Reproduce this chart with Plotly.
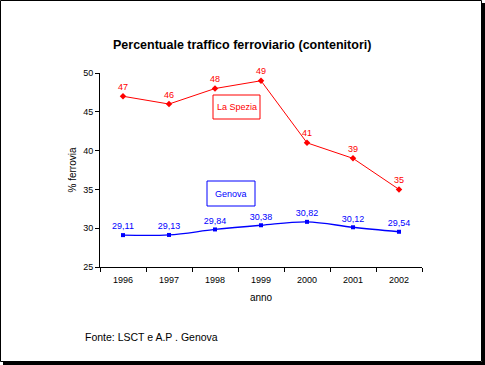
import plotly.graph_objects as go

years = ["1996", "1997", "1998", "1999", "2000", "2001", "2002"]
la_spezia = [47, 46, 48, 49, 41, 39, 35]
genova = [29.11, 29.13, 29.84, 30.38, 30.82, 30.12, 29.54]
la_spezia_labels = [str(v) for v in la_spezia]
genova_labels = [f"{v:.2f}".replace(".", ",") for v in genova]

W, H = 485, 365
L, R, T, B = 100, 63, 73, 98
pw, ph = W - L - R, H - T - B

def px(x):
    return (x - L) / pw

def py(y):
    return 1 - (y - T) / ph

FONT = "Liberation Sans, Arial, sans-serif"

fig = go.Figure()
fig.add_trace(go.Scatter(
    x=years, y=la_spezia, mode="lines+markers+text",
    line=dict(color="#FF0000", width=1),
    marker=dict(symbol="diamond", size=5, color="#FF0000"),
    text=la_spezia_labels, textposition="top center",
    textfont=dict(family=FONT, size=9, color="#FF0000"),
    showlegend=False, cliponaxis=False,
))
fig.add_trace(go.Scatter(
    x=years, y=genova, mode="lines+markers+text",
    line=dict(color="#0000FF", width=1.3, shape="spline"),
    marker=dict(symbol="square", size=4, color="#0000FF"),
    text=genova_labels, textposition="top center",
    textfont=dict(family=FONT, size=9, color="#0000FF"),
    showlegend=False, cliponaxis=False,
))

shapes = [
    # outer frame
    dict(type="rect", xref="paper", yref="paper",
         x0=px(0.5), x1=px(481.5), y0=py(0.5), y1=py(361.5),
         line=dict(color="black", width=1), fillcolor="rgba(0,0,0,0)", layer="below"),
    # shadow right
    dict(type="rect", xref="paper", yref="paper",
         x0=px(482), x1=px(485), y0=py(3), y1=py(365),
         line=dict(width=0), fillcolor="black"),
    # shadow bottom
    dict(type="rect", xref="paper", yref="paper",
         x0=px(3), x1=px(485), y0=py(362), y1=py(365),
         line=dict(width=0), fillcolor="black"),
    # La Spezia box
    dict(type="rect", xref="paper", yref="paper",
         x0=px(213), x1=px(260), y0=py(95), y1=py(119),
         line=dict(color="#FF0000", width=1), fillcolor="white"),
    # Genova box
    dict(type="rect", xref="paper", yref="paper",
         x0=px(207), x1=px(255), y0=py(181), y1=py(206),
         line=dict(color="#0000FF", width=1), fillcolor="white"),
]

annotations = [
    dict(text="La Spezia", xref="paper", yref="paper", x=px(236.5), y=py(107),
         xanchor="center", yanchor="middle",
         showarrow=False, font=dict(family=FONT, size=9, color="#FF0000")),
    dict(text="Genova", xref="paper", yref="paper", x=px(231), y=py(193.5),
         xanchor="center", yanchor="middle",
         showarrow=False, font=dict(family=FONT, size=9, color="#0000FF")),
    dict(text="<b>Percentuale traffico ferroviario (contenitori)</b>", xref="paper", yref="paper",
         x=px(242), y=py(45), xanchor="center", yanchor="middle", showarrow=False,
         font=dict(family=FONT, size=12.5, color="black")),
    dict(text="Fonte: LSCT e A.P . Genova", xref="paper", yref="paper",
         x=px(83), y=py(337), xanchor="left", yanchor="middle", showarrow=False,
         font=dict(family=FONT, size=10.5, color="black")),
]

fig.update_layout(
    width=W, height=H,
    margin=dict(l=L, r=R, t=T, b=B),
    paper_bgcolor="white", plot_bgcolor="white",
    shapes=shapes, annotations=annotations,
    xaxis=dict(type="category", categoryorder="array", categoryarray=years,
               range=[-0.5, 6.5], tickson="boundaries", ticks="outside", ticklen=4,
               tickcolor="black", showline=True, linecolor="black", linewidth=1,
               showgrid=False, zeroline=False, ticklabelstandoff=4,
               tickfont=dict(family=FONT, size=9, color="black"),
               title=dict(text="anno", font=dict(family=FONT, size=10, color="black"), standoff=10)),
    yaxis=dict(range=[25, 50], dtick=5, ticks="outside", ticklen=4, tickcolor="black",
               showline=True, linecolor="black", linewidth=1, showgrid=False, zeroline=False,
               tickfont=dict(family=FONT, size=9, color="black"),
               title=dict(text="% ferrovia", font=dict(family=FONT, size=10, color="black"), standoff=4)),
)

fig.write_html("out.html", config={"displayModeBar": False},
               post_script="document.body.style.margin='0';document.body.style.overflow='hidden';")
